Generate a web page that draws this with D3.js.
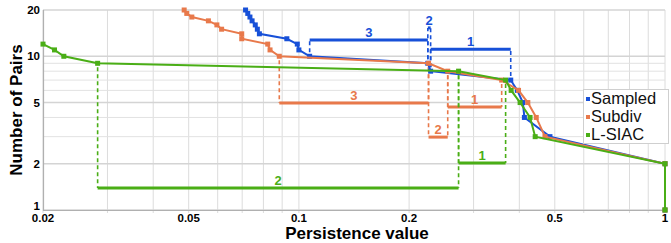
<!DOCTYPE html>
<html>
<head>
<meta charset="utf-8">
<script src="https://cdn.jsdelivr.net/npm/d3@7"></script>
<style>
  body { margin: 0; background: #fff; }
  svg { display: block; }
  text { font-family: "Liberation Sans", Arial, sans-serif; }
</style>
</head>
<body>
<div id="chart"></div>
<script>
// persistence value / number of pairs for each method
const sampledX = [0.0715, 0.0725, 0.0735, 0.0745, 0.076, 0.077, 0.078, 0.0927, 0.099, 0.1, 0.107, 0.225, 0.229, 0.379, 0.395, 0.409, 0.413, 0.485, 1, 1];
const sampledY = [20, 19, 18, 17, 16, 15, 14, 13, 12, 11, 10, 9, 8, 7, 6, 5, 4, 3, 2, 1];
const subdivX = [0.0486, 0.0494, 0.051, 0.0566, 0.0597, 0.0615, 0.0698, 0.0698, 0.0822, 0.0834, 0.0884, 0.226, 0.255, 0.358, 0.398, 0.422, 0.445, 0.47, 1, 1];
const subdivY = [20, 19, 18, 17, 16, 15, 14, 13, 12, 11, 10, 9, 8, 7, 6, 5, 4, 3, 2, 1];
const lsiacX = [0.02, 0.0215, 0.0228, 0.0282, 0.273, 0.367, 0.38, 0.402, 0.428, 0.442, 1, 1];
const lsiacY = [12, 11, 10, 9, 8, 7, 6, 5, 4, 3, 2, 1];

const seriesNames = ["Sampled", "Subdiv", "L-SIAC"];
const colors = ["#1750d8", "#e8794b", "#4aae16"];

// brackets: series index, label, from/to point index, level of the bar (pairs)
const bracketSeries = [0, 0, 0, 1, 1, 1, 2, 2];
const bracketLabels = ["3", "2", "1", "3", "2", "1", "2", "1"];
const bracketFrom = [10, 11, 12, 10, 11, 12, 3, 4];
const bracketTo = [11, 12, 13, 11, 12, 13, 4, 5];
const bracketLevel = [12.75, 15.3, 11.1, 4.97, 2.98, 4.68, 1.39, 2.02];

const xTicks = [0.02, 0.05, 0.1, 0.2, 0.5, 1];
const yTicks = [1, 2, 5, 10, 20];

const width = 671, height = 243;
const svg = d3.select("#chart").append("svg")
  .attr("width", width)
  .attr("height", height);

const x = d3.scaleLog().domain([0.02, 1]).range([43, 665]);
const y = d3.scaleLog().domain([1, 20]).range([210, 10]);

const xs = [sampledX, subdivX, lsiacX];
const ys = [sampledY, subdivY, lsiacY];
const series = xs.map((arr, i) => arr.map((v, j) => [v, ys[i][j]]));

// grid
const xGrid = [];
for (let d = 0.02; d < 0.095; d += 0.01) xGrid.push(+d.toFixed(2));
for (let d = 0.1; d < 1.05; d += 0.1) xGrid.push(+d.toFixed(1));
const yGrid = [1, 2, 3, 4, 5, 6, 7, 8, 9, 10, 20];

const grid = svg.append("g");
grid.selectAll("line.v").data(xGrid).enter().append("line")
  .attr("x1", d => x(d)).attr("x2", d => x(d))
  .attr("y1", 10).attr("y2", 213)
  .attr("stroke", "#dcdcdc").attr("stroke-width", 1);
grid.selectAll("line.h").data(yGrid).enter().append("line")
  .attr("x1", 43).attr("x2", 665)
  .attr("y1", d => y(d)).attr("y2", d => y(d))
  .attr("stroke", d => yTicks.includes(d) ? "#d4d4d4" : "#e2e2e2")
  .attr("stroke-width", d => yTicks.includes(d) ? 1.6 : 1);

// axes
svg.append("line").attr("x1", 43).attr("x2", 665).attr("y1", 210.5).attr("y2", 210.5)
  .attr("stroke", "#b0b0b0").attr("stroke-width", 1.2);
svg.append("line").attr("x1", 43.5).attr("x2", 43.5).attr("y1", 10).attr("y2", 211)
  .attr("stroke", "#b0b0b0").attr("stroke-width", 1.2);

svg.append("g").selectAll("text").data(xTicks).enter().append("text")
  .attr("x", d => x(d)).attr("y", 222)
  .attr("text-anchor", "middle")
  .attr("font-size", 11.5).attr("font-weight", "bold")
  .text(d => d);

svg.append("g").selectAll("text").data(yTicks).enter().append("text")
  .attr("x", 40).attr("y", d => d === 1 ? y(d) : y(d) + 4)
  .attr("text-anchor", "end")
  .attr("font-size", 11.5).attr("font-weight", "bold")
  .text(d => d);

svg.append("text")
  .attr("x", 357).attr("y", 239)
  .attr("text-anchor", "middle")
  .attr("font-size", 17).attr("font-weight", "bold")
  .text("Persistence value");

svg.append("text")
  .attr("transform", "translate(22,110) rotate(-90)")
  .attr("text-anchor", "middle")
  .attr("font-size", 17).attr("font-weight", "bold")
  .text("Number of Pairs");

// brackets
const br = svg.append("g");
bracketLabels.forEach((lab, i) => {
  const s = bracketSeries[i];
  const p0 = series[s][bracketFrom[i]];
  const p1 = series[s][bracketTo[i]];
  const by = y(bracketLevel[i]);
  const c = colors[s];
  const above = by < y(p0[1]);
  [p0, p1].forEach(p => {
    const py = y(p[1]);
    const gap = above ? -4 : 4;
    br.append("line")
      .attr("x1", x(p[0])).attr("x2", x(p[0]))
      .attr("y1", py + gap).attr("y2", by)
      .attr("stroke", c).attr("stroke-width", 1.6)
      .attr("stroke-dasharray", "4,3");
  });
  br.append("line")
    .attr("x1", x(p0[0])).attr("x2", x(p1[0]))
    .attr("y1", by).attr("y2", by)
    .attr("stroke", c).attr("stroke-width", 3);
  br.append("text")
    .attr("x", (x(p0[0]) + x(p1[0])) / 2).attr("y", by - 3)
    .attr("text-anchor", "middle")
    .attr("font-size", 13).attr("font-weight", "bold")
    .attr("fill", c)
    .text(lab);
});

// series lines
const line = d3.line().x(d => x(d[0])).y(d => y(d[1]));
series.forEach((pts, i) => {
  const g = svg.append("g");
  g.append("path")
    .attr("d", line(pts))
    .attr("fill", "none")
    .attr("stroke", colors[i])
    .attr("stroke-width", 2);
  g.selectAll("rect").data(pts).enter().append("rect")
    .attr("x", d => x(d[0]) - 2.5).attr("y", d => y(d[1]) - 2.5)
    .attr("width", 5).attr("height", 5)
    .attr("fill", colors[i]);
});

// legend
const legend = svg.append("g").attr("transform", "translate(583,89)");
legend.append("rect")
  .attr("x", 0.5).attr("y", 0.5).attr("width", 85).attr("height", 54)
  .attr("fill", "#fff").attr("stroke", "#cfcfcf");
seriesNames.forEach((name, i) => {
  legend.append("rect")
    .attr("x", 3).attr("y", 8 + i * 18)
    .attr("width", 4).attr("height", 4)
    .attr("fill", colors[i]);
  legend.append("text")
    .attr("x", 8).attr("y", 15 + i * 18)
    .attr("font-family", "DejaVu Sans, sans-serif")
    .attr("font-size", 16.5)
    .attr("fill", "#111")
    .text(name);
});
</script>
</body>
</html>
